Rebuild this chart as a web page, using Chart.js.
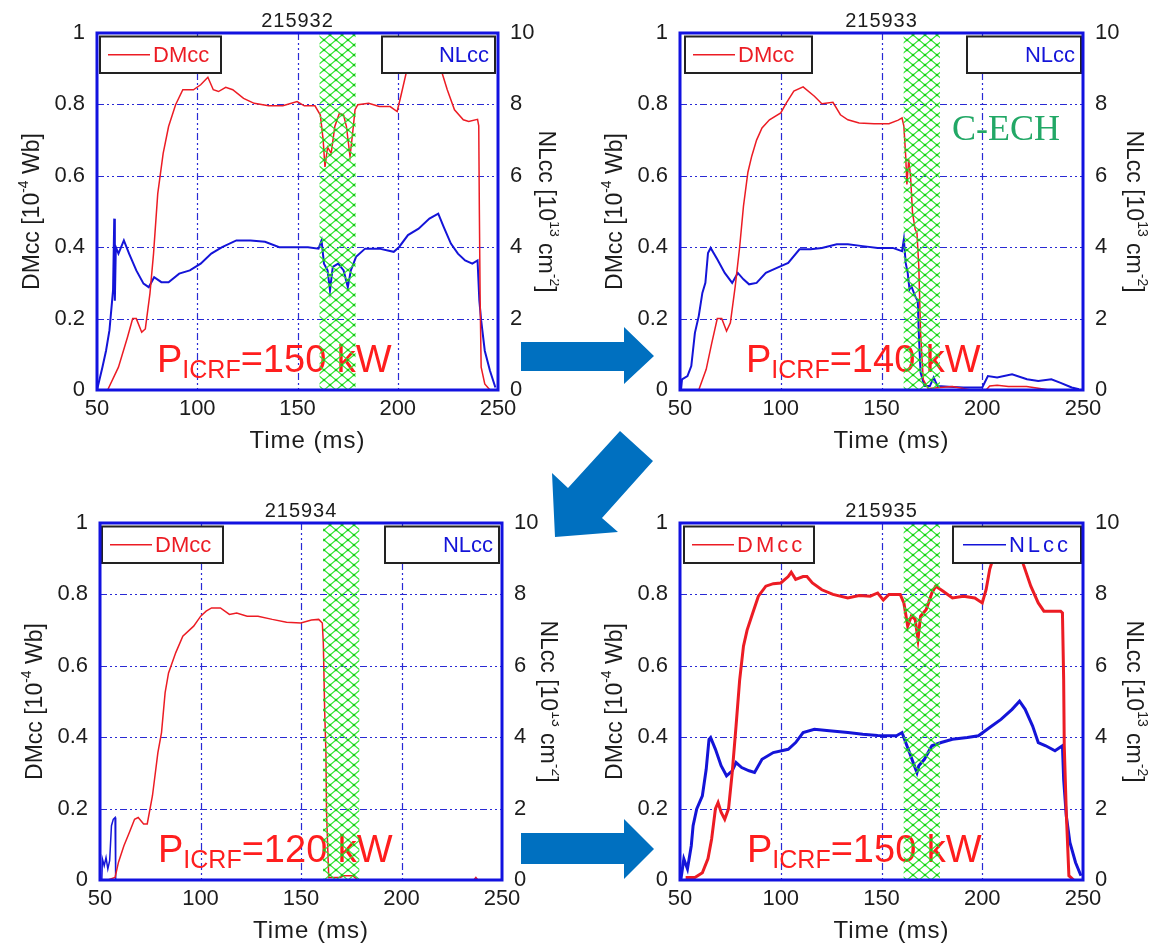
<!DOCTYPE html>
<html>
<head>
<meta charset="utf-8">
<title>DMcc / NLcc - shots 215932-215935</title>
<script src="https://cdn.jsdelivr.net/npm/chart.js"></script>
<style>
  body { margin: 0; background: #fff; }
  #wrap { position: relative; width: 1163px; height: 945px; overflow: hidden; background: #fff; }
  canvas { position: absolute; }
  #arrows { position: absolute; left: 0; top: 0; z-index: 5; }
</style>
</head>
<body>
<div id="wrap">
  <canvas id="c1"></canvas>
  <canvas id="c2"></canvas>
  <canvas id="c3"></canvas>
  <canvas id="c4"></canvas>
  <svg id="arrows" width="1163" height="945">
    <polygon fill="#0070c0" points="521,342 624,342 624,327 654,356 624,384 624,371 521,371"/>
    <polygon fill="#0070c0" points="555,537 552,473 568,488 620,431 653,461 602,518 618,532"/>
    <polygon fill="#0070c0" points="521,833 624,833 624,819 654,849 624,879 624,864 521,864"/>
  </svg>
</div>
<script>
// shot numbers and ICRF power of each panel
const shots = ['215932', '215933', '215934', '215935'];
const powers = ['150', '140', '120', '150'];
// C-ECH window (ms), hatched green band
const echWindow = [161, 179];

// [time ms, DMcc 1e-4 Wb]
const dm32 = [[55.3,0],[60.7,0.064],[65.2,0.148],[67.8,0.2],[69.6,0.2],[72.3,0.162],[74.1,0.171],[76.4,0.27],[78.2,0.382],[80.3,0.55],[83,0.663],[85.7,0.738],[89.2,0.799],[92.8,0.841],[98.1,0.841],[101.7,0.855],[105.3,0.876],[108,0.841],[110.6,0.836],[114.2,0.848],[117.7,0.841],[123.1,0.817],[128.4,0.803],[135.6,0.796],[142.7,0.796],[149.8,0.808],[153.4,0.796],[158.7,0.796],[161.4,0.77],[162.8,0.70],[163.7,0.625],[165,0.68],[166.8,0.663],[168.6,0.738],[170.9,0.775],[173,0.77],[174.4,0.738],[176.2,0.654],[177.5,0.72],[178.7,0.785],[180.1,0.799],[185.5,0.803],[190.8,0.794],[196.2,0.794],[199.7,0.78],[201.5,0.822],[204.2,0.888],[208,0.94],[214,0.96],[219,0.93],[222,0.89],[224.7,0.841],[228.3,0.785],[232.7,0.757],[235.4,0.752],[239.8,0.758],[240.4,0.74],[240.7,0.504],[241.1,0.25],[241.6,0.064],[243.4,0.017],[246,0]];
const dm33 = [[50,0],[59.3,0],[63,0.058],[65.7,0.13],[68.5,0.2],[70.7,0.2],[73.1,0.165],[75,0.188],[77.4,0.29],[79.6,0.40],[81.5,0.515],[83.7,0.61],[85.6,0.655],[88,0.70],[90.7,0.734],[94.4,0.757],[100,0.776],[102.8,0.804],[106.5,0.837],[111.1,0.849],[116.7,0.823],[120.4,0.802],[125.9,0.806],[129.6,0.771],[133.3,0.757],[138.9,0.748],[146.3,0.746],[153.7,0.746],[158.3,0.756],[160.2,0.762],[161.1,0.739],[162,0.655],[162.6,0.576],[163.5,0.646],[164.4,0.599],[165.4,0.496],[166.7,0.45],[167.6,0.44],[168.5,0.347],[169.4,0.16],[170.7,0.03],[173.1,0.004],[177.8,0.006],[185.2,0.01],[194.4,0],[201.9,0],[203.7,0.011],[207.4,0.013],[213,0.01],[222,0.01],[227.8,0.005],[233.3,0],[240.7,0]];
const dm34 = [[53.9,0],[57.5,0.007],[59.2,0.05],[61.9,0.096],[64.6,0.133],[67.2,0.17],[69,0.175],[71.7,0.157],[73.5,0.157],[76.1,0.236],[78.8,0.357],[80.6,0.413],[82.4,0.525],[84.1,0.58],[87.7,0.637],[91.2,0.683],[96.6,0.711],[100.1,0.739],[102.8,0.753],[105.5,0.762],[109.9,0.762],[114.4,0.744],[118,0.748],[123.2,0.739],[128.6,0.739],[135.7,0.73],[142.8,0.722],[149.9,0.72],[155.2,0.728],[158.8,0.73],[160.6,0.72],[161.1,0.664],[161.8,0.469],[162.4,0.357],[162.7,0.19],[163.8,0.007],[169.5,0.007],[171.2,0.012],[175.7,0.012],[178.4,0],[236,0],[237,0.007],[238,0],[248,0]];
const dm35 = [[52.8,0.007],[57.4,0.007],[61.1,0.02],[63.9,0.06],[65.7,0.115],[67.6,0.2],[68.9,0.217],[70.4,0.19],[72.2,0.17],[74.1,0.2],[75.9,0.3],[77.8,0.43],[79.6,0.56],[81.5,0.655],[83.3,0.70],[86.1,0.748],[88.9,0.795],[92.6,0.823],[96.3,0.83],[100,0.832],[103.7,0.85],[105.2,0.862],[107.4,0.842],[111.1,0.85],[113,0.85],[115.7,0.832],[120.4,0.813],[125.9,0.8],[133.3,0.79],[138.9,0.797],[144.4,0.795],[148.1,0.804],[150.9,0.784],[153.7,0.80],[159.3,0.80],[161.1,0.776],[163,0.711],[164.8,0.739],[166.7,0.73],[168.1,0.674],[169.4,0.739],[172.2,0.758],[175,0.804],[176.9,0.823],[180.6,0.809],[185.2,0.79],[190.7,0.795],[196.3,0.79],[200,0.776],[201.9,0.813],[203.7,0.87],[207,0.93],[213,0.95],[218,0.93],[220.4,0.884],[224.1,0.823],[227.8,0.776],[230.6,0.753],[234.3,0.753],[238.9,0.753],[239.8,0.748],[240.4,0.562],[240.7,0.376],[241.7,0.19],[243,0.012],[245.4,0]];

// [time ms, NLcc 1e13 cm^-2]
const nl32 = [[50,0],[52.7,0.64],[54.5,1.1],[56.2,1.67],[58,2.79],[58.6,4.8],[58.9,2.5],[59.4,4.0],[60.7,3.82],[63.4,4.19],[66,3.82],[69.6,3.35],[73.2,2.98],[75.8,2.88],[78.5,3.16],[82.1,3.02],[85.7,3.02],[91,3.26],[96.3,3.35],[101.7,3.54],[107,3.82],[112.4,4.0],[119.5,4.19],[126.6,4.19],[133.8,4.15],[140.9,4.0],[148,4.0],[155.2,4.0],[160.5,3.96],[162,4.19],[163.2,3.54],[165,3.35],[166.2,2.79],[167.6,3.45],[170.3,3.54],[173,3.35],[175.1,2.88],[176.6,3.35],[179.2,3.73],[183.7,3.96],[190.8,3.96],[198,3.87],[200.6,4.0],[205.1,4.34],[210.4,4.52],[215.8,4.8],[220.2,4.94],[222.9,4.57],[226.5,4.1],[230,3.82],[233.6,3.63],[237.2,3.54],[239.8,3.63],[240.7,2.5],[241.6,1.95],[243.4,1.1],[246,0.54],[248.7,0.07]];
const nl33 = [[50.5,0],[51,0.3],[53.7,0.39],[55.6,0.67],[57.4,1.6],[59.3,2.07],[61.1,2.72],[62.6,3.0],[63.9,3.84],[65.2,3.98],[68.5,3.66],[72.2,3.28],[75.9,3.0],[78.7,3.28],[81.5,3.1],[84.3,2.96],[88,3.0],[92.6,3.28],[98.1,3.42],[103.7,3.56],[109.3,3.94],[114.8,3.94],[120.4,3.98],[127.8,4.08],[133.3,4.08],[140.7,4.03],[148.1,3.98],[155.6,3.98],[160.2,3.89],[161.1,4.22],[162,3.56],[163,3.28],[163.9,2.82],[164.8,2.91],[166.7,2.63],[168,2.49],[168.5,1.6],[169.4,0.49],[171.3,0.11],[174,0.11],[175.9,0.35],[177.8,0.11],[183.3,0.09],[190.7,0.07],[200,0.07],[202.8,0.39],[207.4,0.35],[214.8,0.44],[222.2,0.3],[227.8,0.25],[234.3,0.3],[238.9,0.2],[244.4,0.07],[248,0.02]];
const nl34 = [[50.9,0],[51.2,0.59],[52.1,0.4],[53,0.63],[53.9,0.31],[54.8,0.54],[55.7,1.52],[56.6,1.7],[57.5,1.75],[57.8,0]];
const nl35 = [[50.4,0],[51.9,0.59],[53.7,0.31],[55.6,0.96],[56.5,1.52],[58.3,1.99],[61.1,2.36],[63,3.1],[64.4,3.94],[65.2,3.99],[67.6,3.66],[70.4,3.2],[73.1,2.92],[75.9,3.06],[77.8,3.29],[80.6,3.15],[84.3,3.06],[87,3.01],[90.7,3.38],[96.3,3.57],[103.7,3.66],[107.4,3.85],[111.1,4.13],[116.7,4.22],[124.1,4.18],[133.3,4.13],[140.7,4.08],[148.1,4.05],[157.4,4.04],[160.2,4.13],[162,3.85],[163.9,3.57],[165.7,3.29],[167.6,3.01],[168.5,3.2],[171.3,3.38],[175,3.76],[179.6,3.85],[185.2,3.94],[192.6,3.99],[198.1,4.04],[203.7,4.27],[209.3,4.5],[214.8,4.78],[218.5,5.01],[221.3,4.78],[225,4.31],[227.8,3.85],[231.5,3.76],[236.1,3.62],[239.8,3.76],[240.4,2.82],[241.7,1.8],[243.5,1.05],[246.3,0.49],[249,0.12]];

const xTicks = [50, 100, 150, 200, 250];

const RED = '#ec1c24';
const BLUE = '#1414d8';
const FRAME = '#1212e0';
const GRID = '#2a2ad4';
const INK = '#1c1c1c';
const FONT = '"Liberation Sans", Arial, sans-serif';

// page layout of the four panels (canvas box + plot frame, page px)
const panels = [
  { id: 'c1', shot: shots[0], power: powers[0], dm: dm32, nl: nl32, left: 0, top: 0, w: 559, h: 480,
    area: { l: 97, t: 33, r: 498, b: 390 }, boxL: [100, 221], boxR: [382, 495], nlLine: false, lw: 1.5, nlw: 2, textDx: 60, spacing: 0, rTitle: 47 },
  { id: 'c2', shot: shots[1], power: powers[1], dm: dm33, nl: nl33, left: 559, top: 0, w: 604, h: 480,
    area: { l: 680, t: 33, r: 1083, b: 390 }, boxL: [685, 812], boxR: [967, 1081], nlLine: false, lw: 1.5, nlw: 2, textDx: 66, spacing: 0, cech: true, rTitle: 50 },
  { id: 'c3', shot: shots[2], power: powers[2], dm: dm34, nl: nl34, left: 0, top: 480, w: 559, h: 465,
    area: { l: 100, t: 523, r: 502, b: 880 }, boxL: [102, 223], boxR: [385, 499], nlLine: false, lw: 1.5, nlw: 1.5, textDx: 58, spacing: 0, rTitle: 45 },
  { id: 'c4', shot: shots[3], power: powers[3], dm: dm35, nl: nl35, left: 559, top: 480, w: 604, h: 465,
    area: { l: 680, t: 523, r: 1083, b: 880 }, boxL: [684, 814], boxR: [953, 1081], nlLine: true, lw: 3, nlw: 3, textDx: 67, spacing: 3, rTitle: 50 }
];

function toXY(arr) {
  return arr.map(d => ({ x: d[0], y: d[1] }));
}

function hatchPattern(ctx) {
  const c = document.createElement('canvas');
  c.width = 12; c.height = 10;
  const g = c.getContext('2d');
  g.strokeStyle = '#2ee82e';
  g.lineWidth = 1.2;
  g.beginPath();
  g.moveTo(0, 0); g.lineTo(12, 10);
  g.moveTo(12, 0); g.lineTo(0, 10);
  g.stroke();
  g.fillStyle = '#18c818';
  [[0, 0], [12, 0], [0, 10], [12, 10], [6, 5]].forEach(pt => {
    g.beginPath(); g.arc(pt[0], pt[1], 1.3, 0, Math.PI * 2); g.fill();
  });
  return ctx.createPattern(c, 'repeat');
}

// text with superscript parts, centred on (cx, cy), rotated
function richText(ctx, parts, size, cx, cy, angle) {
  ctx.save();
  ctx.translate(cx, cy);
  ctx.rotate(angle);
  ctx.fillStyle = INK;
  ctx.textBaseline = 'middle';
  ctx.textAlign = 'left';
  let total = 0;
  parts.forEach(pt => {
    ctx.font = (pt.sup ? Math.round(size * 0.62) : size) + 'px ' + FONT;
    pt.w = ctx.measureText(pt.t).width;
    total += pt.w;
  });
  let x = -total / 2;
  parts.forEach(pt => {
    ctx.font = (pt.sup ? Math.round(size * 0.62) : size) + 'px ' + FONT;
    ctx.fillText(pt.t, x, pt.sup ? -size * 0.4 : 0);
    x += pt.w;
  });
  ctx.restore();
}

function overlay(p) {
  return {
    id: 'overlay_' + p.id,
    beforeDraw(chart) {
      const ctx = chart.ctx;
      ctx.save();
      ctx.fillStyle = '#fff';
      ctx.fillRect(0, 0, chart.width, chart.height);
      ctx.restore();
    },
    beforeDatasetsDraw(chart) {
      const ctx = chart.ctx, a = chart.chartArea;
      const xs = chart.scales.x, ys = chart.scales.yL;
      ctx.save();
      ctx.strokeStyle = GRID;
      ctx.lineWidth = 1.2;
      ctx.setLineDash([7, 3, 2, 3, 2, 3]);
      [100, 150, 200].forEach(v => {
        const x = Math.round(xs.getPixelForValue(v)) + 0.5;
        ctx.beginPath(); ctx.moveTo(x, a.top); ctx.lineTo(x, a.bottom); ctx.stroke();
      });
      [0.2, 0.4, 0.6, 0.8].forEach(v => {
        const y = Math.round(ys.getPixelForValue(v)) + 0.5;
        ctx.beginPath(); ctx.moveTo(a.left, y); ctx.lineTo(a.right, y); ctx.stroke();
      });
      ctx.restore();
    },
    afterDatasetsDraw(chart) {
      const ctx = chart.ctx, a = chart.chartArea;
      const xs = chart.scales.x;
      const ox = p.left;
      ctx.save();

      // P_ICRF label
      ctx.fillStyle = '#ff1e1e';
      ctx.textBaseline = 'alphabetic';
      ctx.textAlign = 'left';
      let tx = a.left + p.textDx, ty = a.bottom - 18;
      ctx.font = '38px ' + FONT;
      ctx.fillText('P', tx, ty);
      tx += ctx.measureText('P').width;
      ctx.font = '25px ' + FONT;
      ctx.fillText('ICRF', tx, ty + 6);
      tx += ctx.measureText('ICRF').width;
      ctx.font = '38px ' + FONT;
      ctx.fillText('=' + p.power + ' kW', tx, ty);

      if (p.cech) {
        ctx.fillStyle = '#22a866';
        ctx.font = '36px "Liberation Serif", "Times New Roman", serif';
        ctx.fillText('C-ECH', a.left + 272, a.top + 107);
      }

      // C-ECH band
      const x1 = xs.getPixelForValue(echWindow[0]);
      const x2 = xs.getPixelForValue(echWindow[1]);
      ctx.fillStyle = hatchPattern(ctx);
      ctx.fillRect(x1, a.top, x2 - x1, a.bottom - a.top);

      // legend boxes
      const by1 = a.top + 3.5, by2 = a.top + 40;
      ctx.lineWidth = 2;
      ctx.strokeStyle = '#222';
      ctx.fillStyle = '#fff';
      [p.boxL, p.boxR].forEach(b => {
        ctx.fillRect(b[0] - ox, by1, b[1] - b[0], by2 - by1);
        ctx.strokeRect(b[0] - ox, by1, b[1] - b[0], by2 - by1);
      });
      const my = (by1 + by2) / 2;
      ctx.lineWidth = 1.5;
      ctx.strokeStyle = RED;
      ctx.beginPath(); ctx.moveTo(p.boxL[0] - ox + 8, my); ctx.lineTo(p.boxL[0] - ox + 50, my); ctx.stroke();
      ctx.font = '22px ' + FONT;
      ctx.textBaseline = 'middle';
      ctx.letterSpacing = p.spacing + 'px';
      ctx.fillStyle = RED;
      ctx.textAlign = 'left';
      ctx.fillText('DMcc', p.boxL[0] - ox + 53, my + 1);
      if (p.nlLine) {
        ctx.strokeStyle = BLUE;
        ctx.beginPath(); ctx.moveTo(p.boxR[0] - ox + 10, my); ctx.lineTo(p.boxR[0] - ox + 53, my); ctx.stroke();
      }
      ctx.fillStyle = BLUE;
      ctx.textAlign = 'right';
      ctx.fillText('NLcc', p.boxR[1] - ox - (p.nlLine ? 10 : 6), my + 1);
      ctx.letterSpacing = '0px';

      // frame
      ctx.strokeStyle = FRAME;
      ctx.lineWidth = 3;
      ctx.strokeRect(a.left, a.top, a.right - a.left, a.bottom - a.top);

      // shot number + x title
      ctx.fillStyle = INK;
      ctx.textAlign = 'center';
      ctx.textBaseline = 'middle';
      ctx.font = '20px ' + FONT;
      ctx.letterSpacing = '1px';
      ctx.fillText(p.shot, (a.left + a.right) / 2, a.top - 12);
      ctx.font = '24px ' + FONT;
      ctx.fillText('Time (ms)', (a.left + a.right) / 2 + 10, a.bottom + 51);
      ctx.letterSpacing = '0px';
      ctx.restore();

      const mid = (a.top + a.bottom) / 2;
      richText(ctx, [{ t: 'DMcc [10' }, { t: '-4', sup: true }, { t: ' Wb]' }], 23, a.left - 64, mid, -Math.PI / 2);
      richText(ctx, [{ t: 'NLcc [10' }, { t: '13', sup: true }, { t: ' cm' }, { t: '-2', sup: true }, { t: ']' }], 23, a.right + p.rTitle, mid, Math.PI / 2);
    }
  };
}

const tickFont = { family: FONT, size: 22 };
const tickLabel = v => String(Number(v.toFixed(2)));

panels.forEach(p => {
  const cv = document.getElementById(p.id);
  cv.width = p.w; cv.height = p.h;
  cv.style.left = p.left + 'px';
  cv.style.top = p.top + 'px';
  cv.style.width = p.w + 'px';
  cv.style.height = p.h + 'px';

  new Chart(cv, {
    type: 'line',
    data: {
      datasets: [
        { label: 'DMcc', data: toXY(p.dm), yAxisID: 'yL', borderColor: RED, borderWidth: p.lw, pointRadius: 0, tension: 0, fill: false },
        { label: 'NLcc', data: toXY(p.nl), yAxisID: 'yR', borderColor: BLUE, borderWidth: p.nlw, pointRadius: 0, tension: 0, fill: false }
      ]
    },
    options: {
      responsive: false,
      animation: false,
      events: [],
      layout: { padding: { top: p.area.t - p.top, left: 0, right: 0, bottom: 0 } },
      plugins: { legend: { display: false }, tooltip: { enabled: false }, title: { display: false } },
      scales: {
        x: {
          type: 'linear', min: 50, max: 250,
          afterBuildTicks: s => { s.ticks = xTicks.map(v => ({ value: v })); },
          ticks: { font: tickFont, color: INK, padding: 6, maxRotation: 0, autoSkip: false, callback: tickLabel },
          grid: { display: false, drawTicks: false },
          border: { display: false },
          afterFit: s => { s.height = p.top + p.h - p.area.b; }
        },
        yL: {
          position: 'left', min: 0, max: 1,
          ticks: { stepSize: 0.2, font: tickFont, color: INK, padding: 12, callback: tickLabel },
          grid: { display: false, drawTicks: false },
          border: { display: false },
          afterFit: s => { s.width = p.area.l - p.left; }
        },
        yR: {
          position: 'right', min: 0, max: 10,
          ticks: { stepSize: 2, font: tickFont, color: INK, padding: 12, callback: tickLabel },
          grid: { display: false, drawTicks: false },
          border: { display: false },
          afterFit: s => { s.width = p.left + p.w - p.area.r; }
        }
      }
    },
    plugins: [overlay(p)]
  });
});
</script>
</body>
</html>
